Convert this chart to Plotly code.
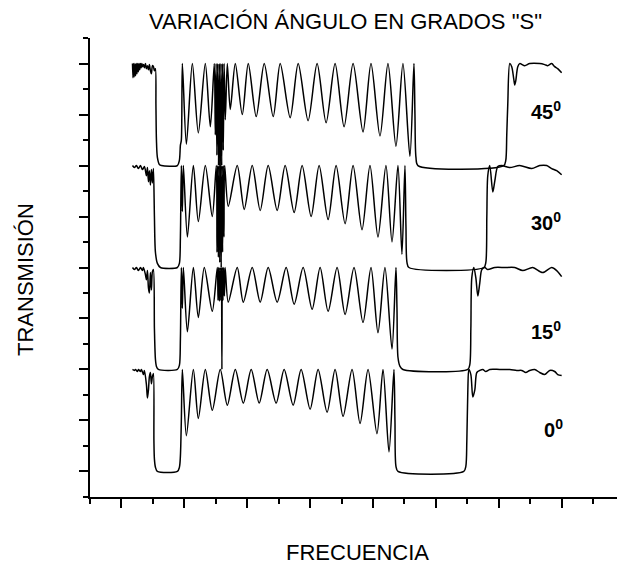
import plotly.graph_objects as go

# Normalised frequency (a.u.) and transmission (0-1) for each incidence angle, S polarisation.
freq_0 = [1.175, 1.206, 1.222, 1.254, 1.270, 1.302, 1.317, 1.349, 1.365, 1.397, 1.413, 1.429,
          1.444, 1.460, 1.476, 1.492, 1.508, 1.516, 1.524, 1.540, 1.571, 1.889, 1.921, 1.937,
          1.952, 1.968, 2.032, 2.143, 2.222, 2.333, 2.444, 2.571, 2.683, 2.810, 2.937, 3.063,
          3.190, 3.317, 3.460, 3.587, 3.730, 3.857, 4.000, 4.127, 4.270, 4.397, 4.524, 4.667,
          4.794, 4.921, 5.063, 5.159, 5.254, 5.333, 5.349, 5.365, 5.397, 6.444, 6.476, 6.492,
          6.508, 6.524, 6.556, 6.587, 6.619, 6.651, 6.698, 6.746, 6.794, 6.857, 7.016, 7.175,
          7.286, 7.365, 7.429, 7.492, 7.571, 7.651, 7.730, 7.810, 7.889, 7.937, 8.000]
trans_0 = [1.00, 0.99, 1.00, 0.98, 1.00, 0.98, 1.00, 0.95, 0.99, 0.85, 0.72, 0.80,
           0.93, 0.97, 0.86, 0.93, 0.96, 0.30, 0.12, 0.04, 0.00, 0.00, 0.04, 0.15,
           0.50, 1.00, 0.35, 1.00, 0.52, 1.00, 0.60, 1.00, 0.65, 1.00, 0.67, 1.00,
           0.67, 1.00, 0.67, 1.00, 0.65, 1.00, 0.61, 1.00, 0.58, 1.00, 0.54, 1.00,
           0.47, 1.00, 0.37, 1.00, 0.19, 1.00, 0.50, 0.05, 0.00, 0.00, 0.05, 0.30,
           0.80, 1.00, 0.95, 0.73, 0.80, 0.97, 0.99, 1.00, 0.98, 1.00, 1.00, 1.00,
           0.99, 0.99, 0.97, 0.99, 1.00, 0.97, 0.95, 0.99, 0.98, 0.95, 0.94]

freq_15 = [1.175, 1.206, 1.238, 1.270, 1.302, 1.333, 1.349, 1.381, 1.397, 1.413, 1.429, 1.444,
           1.460, 1.476, 1.492, 1.508, 1.524, 1.540, 1.556, 1.587, 1.889, 1.921, 1.937, 1.952,
           1.968, 1.984, 2.048, 2.143, 2.222, 2.317, 2.444,
           2.524, 2.535, 2.546, 2.557, 2.568, 2.579, 2.590, 2.597, 2.603, 2.614, 2.625, 2.637, 2.648,
           2.698, 2.841, 2.937, 3.079, 3.206, 3.333, 3.476, 3.619, 3.746, 3.889, 4.032, 4.159,
           4.286, 4.429, 4.556, 4.698, 4.841, 4.968, 5.079, 5.190, 5.302, 5.365, 5.381, 5.397,
           5.429, 5.476, 6.508, 6.540, 6.556, 6.571, 6.603, 6.635, 6.667, 6.698, 6.730, 6.778,
           6.825, 6.937, 7.095, 7.254, 7.381, 7.540, 7.698, 7.841, 7.921, 8.000]
trans_15 = [1.00, 0.98, 1.00, 0.97, 1.00, 0.97, 1.00, 0.93, 0.88, 0.97, 0.80, 0.75,
            0.95, 0.78, 0.96, 0.98, 0.40, 0.10, 0.03, 0.00, 0.00, 0.04, 0.30, 1.00,
            0.60, 1.00, 0.37, 1.00, 0.51, 1.00, 0.57,
            1.00, 0.68, 1.00, 0.67, 1.00, 0.68, 1.00, 0.00, 1.00, 0.68, 1.00, 0.72, 1.00,
            0.66, 1.00, 0.66, 1.00, 0.66, 1.00, 0.66, 1.00, 0.64, 1.00, 0.59, 1.00,
            0.57, 1.00, 0.54, 1.00, 0.46, 1.00, 0.36, 1.00, 0.20, 1.00, 0.60, 0.12,
            0.03, 0.00, 0.00, 0.05, 0.40, 0.90, 1.00, 0.90, 0.72, 0.85, 0.98, 1.00,
            0.98, 1.00, 1.00, 1.00, 0.97, 1.00, 0.95, 1.00, 0.97, 0.91]

freq_30 = [1.175, 1.206, 1.238, 1.270, 1.302, 1.333, 1.365, 1.397, 1.413, 1.429, 1.444, 1.460,
           1.476, 1.492, 1.508, 1.524, 1.540, 1.571, 1.619, 1.889, 1.921, 1.937, 1.952, 1.968,
           1.984, 2.048, 2.143, 2.222, 2.333, 2.444, 2.508,
           2.519, 2.530, 2.541, 2.552, 2.563, 2.575, 2.586, 2.597, 2.608, 2.619, 2.630, 2.641,
           2.698, 2.841, 2.952, 3.079, 3.206, 3.333, 3.476, 3.603, 3.746, 3.873, 4.016, 4.143,
           4.286, 4.413, 4.556, 4.683, 4.825, 4.952, 5.079, 5.206, 5.302, 5.397, 5.460, 5.508,
           5.524, 5.540, 5.571, 6.762, 6.794, 6.810, 6.825, 6.857, 6.905, 6.937, 6.984, 7.048,
           7.175, 7.333, 7.524, 7.651, 7.762, 7.841, 7.921, 8.000]
trans_30 = [1.00, 0.98, 1.00, 0.97, 1.00, 0.96, 0.99, 0.90, 0.98, 0.84, 0.95, 0.81,
            0.96, 0.83, 0.97, 0.50, 0.15, 0.04, 0.00, 0.00, 0.04, 0.30, 1.00, 0.55,
            1.00, 0.30, 1.00, 0.45, 1.00, 0.50, 1.00,
            0.15, 1.00, 0.10, 1.00, 0.05, 1.00, 0.00, 1.00, 0.15, 1.00, 0.30, 1.00,
            0.60, 1.00, 0.57, 1.00, 0.56, 1.00, 0.56, 1.00, 0.54, 1.00, 0.50, 1.00,
            0.47, 1.00, 0.43, 1.00, 0.37, 1.00, 0.30, 1.00, 0.25, 1.00, 0.13, 1.00,
            0.40, 0.05, 0.00, 0.00, 0.05, 0.50, 0.90, 1.00, 0.74, 0.85, 0.99, 1.00,
            0.98, 1.00, 0.97, 1.00, 1.00, 0.97, 0.95, 0.91]

freq_45 = [1.175, 1.183, 1.190, 1.202, 1.213, 1.224, 1.235, 1.246, 1.257, 1.268, 1.279, 1.290,
           1.302, 1.313, 1.324, 1.333, 1.349, 1.365, 1.381, 1.397, 1.413, 1.429, 1.444, 1.460,
           1.476, 1.492, 1.508, 1.524, 1.540, 1.548, 1.556, 1.571, 1.603, 1.635, 1.889, 1.921,
           1.937, 1.952, 1.968, 2.032, 2.127, 2.222, 2.333, 2.413,
           2.476, 2.492, 2.505, 2.517, 2.530, 2.543, 2.556, 2.568, 2.581, 2.594, 2.606, 2.619,
           2.632, 2.651,
           2.683, 2.730, 2.810, 2.921, 3.016, 3.143, 3.270, 3.413, 3.524, 3.683, 3.810, 3.968,
           4.111, 4.254, 4.397, 4.540, 4.683, 4.841, 4.968, 5.111, 5.238, 5.365, 5.476, 5.587,
           5.651, 5.667, 5.683, 5.714, 7.079, 7.111, 7.127, 7.143, 7.175, 7.206, 7.238, 7.254,
           7.270, 7.302, 7.333, 7.413, 7.492, 7.651, 7.730, 7.778, 7.841, 7.889, 7.937, 8.000]
trans_45 = [1.00, 0.86, 1.00, 0.87, 1.00, 0.88, 1.00, 0.90, 1.00, 0.92, 1.00, 0.94,
            1.00, 0.96, 1.00, 0.97, 0.99, 0.96, 1.00, 0.95, 0.98, 0.94, 0.99, 0.93,
            0.90, 0.98, 0.97, 0.93, 0.95, 0.60, 0.25, 0.08, 0.01, 0.00, 0.00, 0.05,
            0.20, 0.25, 1.00, 0.21, 1.00, 0.32, 1.00, 0.38,
            1.00, 0.30, 1.00, 0.10, 1.00, 0.00, 1.00, -0.24, 1.00, 0.00, 1.00, 0.15,
            1.00, 0.45,
            1.00, 0.55, 1.00, 0.50, 1.00, 0.48, 1.00, 0.48, 1.00, 0.47, 1.00, 0.44,
            1.00, 0.42, 1.00, 0.38, 1.00, 0.33, 1.00, 0.29, 1.00, 0.19, 1.00, 0.09,
            1.00, 0.50, 0.08, 0.00, 0.00, 0.05, 0.30, 0.60, 1.00, 0.97, 0.85, 0.79,
            0.83, 0.97, 1.00, 0.98, 1.00, 1.00, 0.99, 0.98, 1.00, 0.97, 0.95, 0.91]

series = [
    ("0", freq_0, trans_0),
    ("15", freq_15, trans_15),
    ("30", freq_30, trans_30),
    ("45", freq_45, trans_45),
]

# label position (frequency, vertical centre) for each stacked curve
label_x = [7.683, 7.476, 7.476, 7.476]
label_y = [0.423, 1.386, 2.447, 3.538]

FONT = "Liberation Sans, Arial, sans-serif"

fig = go.Figure()
for i, (ang, fx, ty) in enumerate(series):
    # each angle is stacked one transmission unit above the previous
    fig.add_trace(go.Scatter(
        x=fx, y=[t + i for t in ty], mode="lines",
        line=dict(color="black", width=1.5, shape="spline", smoothing=0.8),
        name=ang + "°", hoverinfo="skip",
    ))
    fig.add_annotation(
        x=label_x[i], y=label_y[i], xref="x", yref="y",
        text="<b>" + ang + "<sup>0</sup></b>", showarrow=False,
        xanchor="left", yanchor="middle",
        font=dict(family=FONT, size=20, color="black"),
    )

fig.add_annotation(
    x=0.4839, y=1.037, xref="paper", yref="paper",
    text='VARIACIÓN ÁNGULO EN GRADOS "S"', showarrow=False,
    xanchor="center", yanchor="middle",
    font=dict(family=FONT, size=22, color="black"),
)
fig.add_annotation(
    x=0.5085, y=-0.122, xref="paper", yref="paper",
    text="FRECUENCIA", showarrow=False,
    xanchor="center", yanchor="middle",
    font=dict(family=FONT, size=22, color="black"),
)
fig.add_annotation(
    x=-0.1214, y=0.4728, xref="paper", yref="paper",
    text="TRANSMISIÓN", showarrow=False, textangle=-90,
    xanchor="center", yanchor="middle",
    font=dict(family=FONT, size=22, color="black"),
)

axis_common = dict(
    showgrid=False, zeroline=False, showline=True, linecolor="black", linewidth=2,
    ticks="outside", ticklen=9, tickwidth=1.5, tickcolor="black",
    showticklabels=False, mirror=False,
)
fig.update_xaxes(range=[0.4995, 8.88], tick0=0, dtick=1,
                 minor=dict(ticks="outside", ticklen=5, tickwidth=1.5, tickcolor="black",
                            tick0=0, dtick=0.5, showgrid=False),
                 **axis_common)
fig.update_yaxes(range=[-0.251, 4.251], tick0=0, dtick=0.5,
                 minor=dict(ticks="outside", ticklen=5, tickwidth=1.5, tickcolor="black",
                            tick0=0, dtick=0.25, showgrid=False),
                 **axis_common)

fig.update_layout(
    width=617, height=567,
    margin=dict(l=90, r=0, t=38, b=70),
    plot_bgcolor="white", paper_bgcolor="white",
    showlegend=False,
    font=dict(family=FONT, color="black"),
)

fig.write_html("out.html")
